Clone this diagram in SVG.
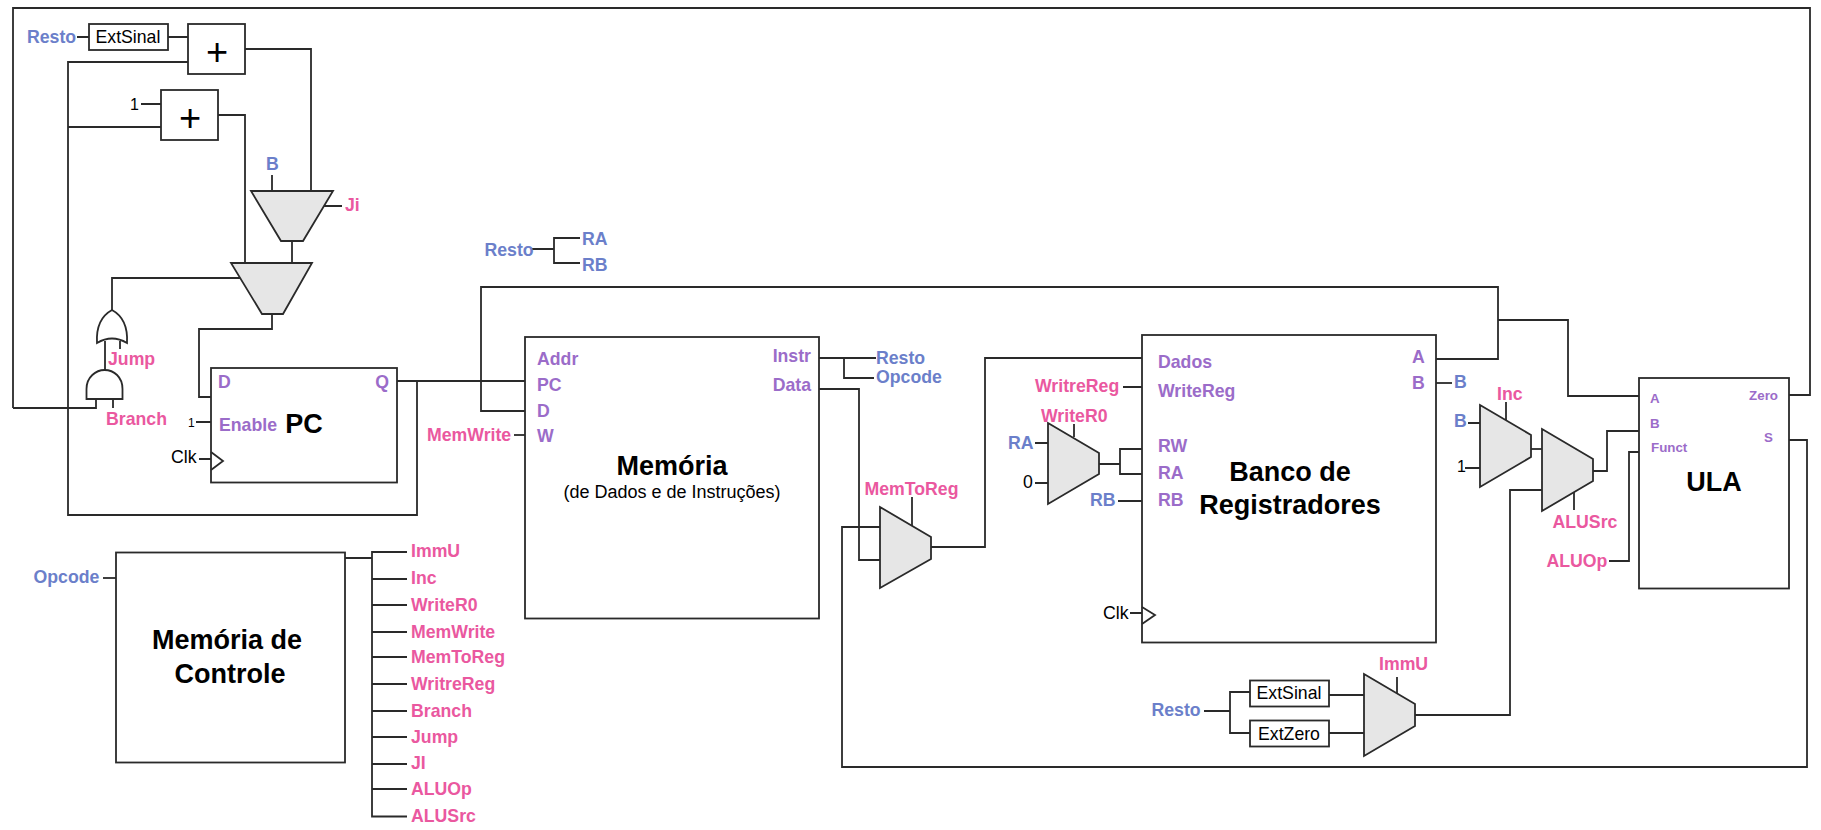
<svg xmlns="http://www.w3.org/2000/svg" width="1821" height="830" viewBox="0 0 1821 830">
<style>
text{font-family:"Liberation Sans",Arial,sans-serif;font-size:17.7px}
.b{fill:#6b7fca;font-weight:bold}
.p{fill:#9b6cc9;font-weight:bold}
.k{fill:#ea589f;font-weight:bold}
.t{fill:#000;font-weight:bold;font-size:27px;text-anchor:middle}
.n{fill:#000}
.m{text-anchor:middle}
.e{text-anchor:end}
.s{font-size:13.33px}
.box{fill:#fff;stroke:#2a2a2a;stroke-width:1.8}
.mux{fill:#e6e6e6;stroke:#2a2a2a;stroke-width:1.8;stroke-linejoin:miter}
.w{fill:none;stroke:#2a2a2a;stroke-width:1.8}
</style>
<rect width="1821" height="830" fill="#fff"/>
<g id="connectors" class="w">
<path d="M13,408V8H1810V395H1789"/>
<path d="M13,408H96V399"/>
<path d="M77,37H89M168,37H188"/>
<path d="M245,49H311V191"/>
<path d="M188,62H68V515H417V381"/>
<path d="M68,127H161M141,104H161"/>
<path d="M218,115H245V263"/>
<path d="M272,175V191M324,206H342M292,241V263"/>
<path d="M240,278H112V310"/>
<path d="M105,341V370M120,341V349M113,399V408"/>
<path d="M272,314V329H199V397H211"/>
<path d="M196,422H211M199,459H211"/>
<path d="M397,381H525"/>
<path d="M525,411H481V287H1498V359H1436"/>
<path d="M1498,320H1568V396H1639"/>
<path d="M514,435H525"/>
<path d="M532,249H554M580,238H554V263H580"/>
<path d="M103,578H116"/>
<path d="M345,558H372M407,552H372V816.500H407M372,579H407M372,605H407M372,632H407M372,657H407M372,684H407M372,711H407M372,737H407M372,764H407M372,789H407"/>
<path d="M819,358H876M844,358V378H874"/>
<path d="M819,389H859V560H880"/>
<path d="M1789,440H1807V767H842V527H880"/>
<path d="M912,497V527"/>
<path d="M931,547H985V358H1142"/>
<path d="M1123,387H1142M1074,424V437M1035,443H1048M1035,483H1048"/>
<path d="M1099,464H1120M1142,449H1120V474H1142"/>
<path d="M1118,501H1142M1130,613H1142"/>
<path d="M1436,383H1452"/>
<path d="M1506,402V420M1468,423H1480M1465,468H1480"/>
<path d="M1531,449H1542"/>
<path d="M1593,471H1607V431H1639"/>
<path d="M1542,490H1510V715H1415"/>
<path d="M1574,492V510"/>
<path d="M1609,561H1629V452H1639"/>
<path d="M1204,711H1230M1250,692H1230V733H1250"/>
<path d="M1328,695H1364M1328,733H1364"/>
<path d="M1397,677V694"/>
</g>
<g id="extsinal-top"><rect class="box" x="89" y="24" width="79" height="26"/><text class="n" x="95.500" y="43">ExtSinal</text></g>
<g id="adder-1"><rect class="box" x="188" y="24" width="57" height="50"/><text class="n m" x="217" y="65" style="font-size:38px">+</text></g>
<g id="adder-2"><rect class="box" x="161" y="90" width="57" height="50"/><text class="n m" x="190" y="131" style="font-size:38px">+</text></g>
<g id="mux-ji"><polygon class="mux" points="251,191 333,191 303,241 281,241"/></g>
<g id="mux-branch"><polygon class="mux" points="231,263 312,263 283,314 262,314"/></g>
<g id="or-gate"><path class="box" d="M97,343C96,326 101,316 112,310C123,316 128,326 127,343C117,337 107,337 97,343Z"/></g>
<g id="and-gate"><path class="box" d="M86.5,399V389C86.5,377 96,370 104.500,370C114,370 122.500,377 122.500,389V399Z"/></g>
<g id="pc"><rect class="box" x="211" y="368" width="186" height="114.500"/><path class="w" d="M211,452L223,461L211,470" fill="#fff"/><text class="p" x="218" y="387.500">D</text><text class="p e" x="389" y="387.500">Q</text><text class="p" x="219" y="430.500">Enable</text><text class="t" x="304" y="432.500">PC</text></g>
<g id="memoria"><rect class="box" x="525" y="337" width="294" height="281.500"/><text class="p" x="537" y="365">Addr</text><text class="p" x="537" y="391">PC</text><text class="p" x="537" y="417">D</text><text class="p" x="537" y="442">W</text><text class="p e" x="811" y="362">Instr</text><text class="p e" x="811" y="391">Data</text><text class="t" x="672" y="474.500">Memória</text><text class="n m" x="672" y="498" style="font-size:18px">(de Dados e de Instruções)</text></g>
<g id="memoria-controle"><rect class="box" x="116" y="552.500" width="229" height="210"/><text class="t" x="227" y="649">Memória de</text><text class="t" x="230" y="682.500">Controle</text></g>
<g id="mux-memtoreg"><polygon class="mux" points="880,507 931,537 931,559 880,588"/></g>
<g id="mux-writer0"><polygon class="mux" points="1048,423 1099,453 1099,474 1048,504"/></g>
<g id="banco"><rect class="box" x="1142" y="335" width="294" height="307.500"/><path class="w" d="M1142,607L1155,615L1142,624" fill="#fff"/><text class="p" x="1158" y="368">Dados</text><text class="p" x="1158" y="397">WriteReg</text><text class="p" x="1158" y="452">RW</text><text class="p" x="1158" y="479">RA</text><text class="p" x="1158" y="506">RB</text><text class="p" x="1412" y="363">A</text><text class="p" x="1412" y="389">B</text><text class="t" x="1290" y="480.500">Banco de</text><text class="t" x="1290" y="513.500">Registradores</text></g>
<g id="mux-inc"><polygon class="mux" points="1480,405 1531,435 1531,457 1480,487"/></g>
<g id="mux-alusrc"><polygon class="mux" points="1542,429 1593,459 1593,481 1542,511"/></g>
<g id="ula"><rect class="box" x="1639" y="378" width="150" height="210.500"/><text class="p s" x="1650" y="403">A</text><text class="p s" x="1650" y="428">B</text><text class="p s" x="1651" y="452">Funct</text><text class="p s e" x="1778" y="400">Zero</text><text class="p s" x="1764" y="442">S</text><text class="t" x="1714" y="490.500">ULA</text></g>
<g id="extsinal-bottom"><rect class="box" x="1250" y="680.500" width="79" height="26"/><text class="n m" x="1289" y="698.500">ExtSinal</text></g>
<g id="extzero"><rect class="box" x="1250" y="720.500" width="79" height="26"/><text class="n m" x="1289" y="739.500">ExtZero</text></g>
<g id="mux-immu"><polygon class="mux" points="1364,674 1415,704 1415,726 1364,756"/></g>
<g id="labels">
<text class="b" x="27" y="43">Resto</text>
<text class="n" x="130" y="110" style="font-size:16px">1</text>
<text class="b" x="266" y="170">B</text>
<text class="k" x="345" y="210.500">Ji</text>
<text class="k" x="108" y="364.500">Jump</text>
<text class="k" x="106" y="424.500">Branch</text>
<text class="n" x="188" y="427" style="font-size:12px">1</text>
<text class="n" x="171" y="463">Clk</text>
<text class="k" x="427" y="440.500">MemWrite</text>
<text class="b" x="484.500" y="256">Resto</text>
<text class="b" x="582" y="245">RA</text>
<text class="b" x="582" y="271">RB</text>
<text class="b" x="33.500" y="582.500">Opcode</text>
<text class="k" x="411" y="557">ImmU</text>
<text class="k" x="411" y="584">Inc</text>
<text class="k" x="411" y="610.500">WriteR0</text>
<text class="k" x="411" y="637.500">MemWrite</text>
<text class="k" x="411" y="662.500">MemToReg</text>
<text class="k" x="411" y="689.500">WritreReg</text>
<text class="k" x="411" y="716.500">Branch</text>
<text class="k" x="411" y="742.500">Jump</text>
<text class="k" x="411" y="769">JI</text>
<text class="k" x="411" y="794.500">ALUOp</text>
<text class="k" x="411" y="821.500">ALUSrc</text>
<text class="b" x="876" y="363.500">Resto</text>
<text class="b" x="876" y="382.500">Opcode</text>
<text class="k" x="864.500" y="494.500">MemToReg</text>
<text class="k" x="1035" y="392">WritreReg</text>
<text class="k" x="1041" y="421.500">WriteR0</text>
<text class="b" x="1008" y="449">RA</text>
<text class="n" x="1023" y="488">0</text>
<text class="b" x="1090" y="506">RB</text>
<text class="n" x="1103" y="619">Clk</text>
<text class="b" x="1454" y="388">B</text>
<text class="k" x="1497" y="400">Inc</text>
<text class="b" x="1454" y="427">B</text>
<text class="n" x="1457" y="472" style="font-size:16px">1</text>
<text class="k" x="1552.500" y="527.500">ALUSrc</text>
<text class="k" x="1546.500" y="566.500">ALUOp</text>
<text class="k" x="1379" y="669.500">ImmU</text>
<text class="b" x="1151.500" y="716">Resto</text>
</g>
</svg>
